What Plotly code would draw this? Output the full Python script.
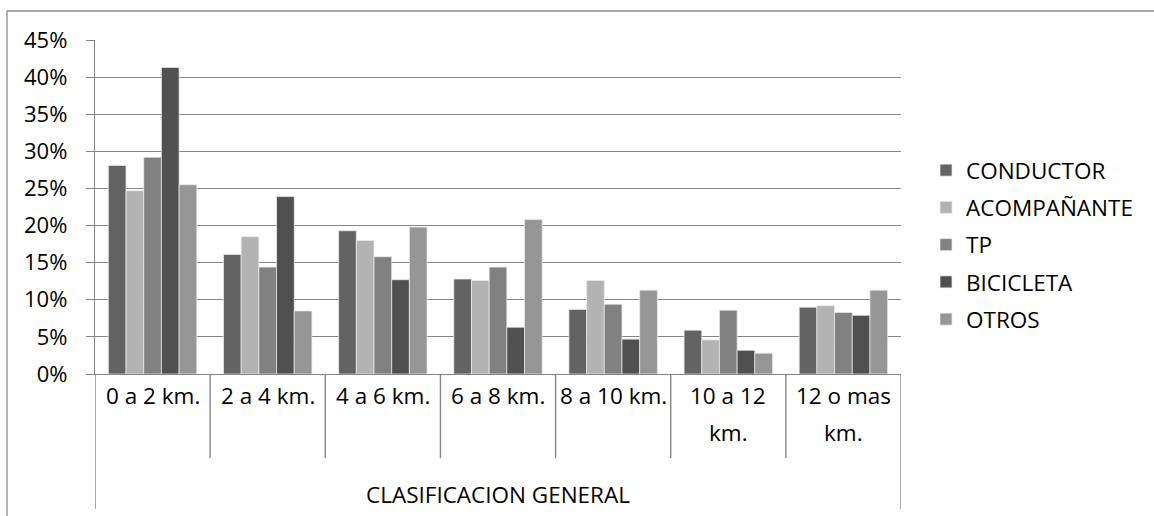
import plotly.graph_objects as go

categories = ["0 a 2 km.", "2 a 4 km.", "4 a 6 km.", "6 a 8 km.", "8 a 10 km.", "10 a 12 km.", "12 o mas km."]
category_lines = [["0 a 2 km."], ["2 a 4 km."], ["4 a 6 km."], ["6 a 8 km."], ["8 a 10 km."], ["10 a 12", "km."], ["12 o mas", "km."]]
group_label = "CLASIFICACION GENERAL"

conductor = [0.281, 0.161, 0.193, 0.128, 0.087, 0.059, 0.090]
acompanante = [0.247, 0.185, 0.180, 0.126, 0.126, 0.046, 0.092]
tp = [0.292, 0.144, 0.158, 0.144, 0.094, 0.086, 0.083]
bicicleta = [0.413, 0.239, 0.127, 0.063, 0.047, 0.032, 0.079]
otros = [0.255, 0.085, 0.198, 0.208, 0.113, 0.028, 0.113]

series_names = ["CONDUCTOR", "ACOMPAÑANTE", "TP", "BICICLETA", "OTROS"]
series_values = [conductor, acompanante, tp, bicicleta, otros]
colors = ["#636363", "#b3b3b3", "#818181", "#505050", "#969696"]

y_ticks = [0, 0.05, 0.10, 0.15, 0.20, 0.25, 0.30, 0.35, 0.40, 0.45]
y_ticktext = ["0%", "5%", "10%", "15%", "20%", "25%", "30%", "35%", "40%", "45%"]

FONT = "Open Sans"
GRID = "#868686"
FS = 22.5

W, H = 1154, 516
L, R, T, B = 95, 253, 40, 142
PH = H - T - B
PW = W - L - R

def py(pix):
    return (H - B - pix) / PH

def px(pix):
    return (pix - L) / PW

fig = go.Figure()
for i, (name, vals, col) in enumerate(zip(series_names, series_values, colors)):
    fig.add_trace(go.Bar(
        x=categories, y=vals, name=name, legendgroup=name,
        marker=dict(color=col, line=dict(color="rgba(235,235,235,0.9)", width=0.8)),
    ))

shapes = []
n = len(categories)
for i in range(n + 1):
    outer = i == 0 or i == n
    shapes.append(dict(type="line", xref="x", yref="paper",
                       x0=i - 0.5, x1=i - 0.5, y0=0, y1=py(509 if outer else 458),
                       line=dict(color=GRID, width=1.4)))
# chart border (right and bottom edges fall outside the picture)
shapes.append(dict(type="rect", xref="paper", yref="paper",
                   x0=px(7), x1=px(1158), y0=py(11), y1=py(522),
                   line=dict(color="#8c8c8c", width=1.3), fillcolor="rgba(0,0,0,0)", layer="below"))

annotations = []
for cat, lines in zip(categories, category_lines):
    for j, line in enumerate(lines):
        annotations.append(dict(xref="x", yref="paper", x=cat, y=py(395 + 37 * j),
                                text=line, showarrow=False, yanchor="middle", xanchor="center",
                                font=dict(family=FONT, size=FS, color="#000000")))
annotations.append(dict(xref="paper", yref="paper", x=0.5, y=py(494), text=group_label,
                        showarrow=False, yanchor="middle", xanchor="center",
                        font=dict(family=FONT, size=FS, color="#000000")))

fig.update_layout(
    width=W, height=H,
    margin=dict(l=L, r=R, t=T, b=B, pad=0),
    paper_bgcolor="white", plot_bgcolor="white",
    barmode="group", bargap=0.232, bargroupgap=0,
    font=dict(family=FONT, size=FS, color="#000000"),
    xaxis=dict(showticklabels=False, ticks="", showgrid=False, zeroline=False,
               showline=True, linecolor=GRID, linewidth=1.4, range=[-0.5, n - 0.5]),
    yaxis=dict(range=[0, 0.45], tickvals=y_ticks, ticktext=y_ticktext,
               showgrid=True, gridcolor=GRID, gridwidth=1.4, zeroline=False,
               showline=True, linecolor=GRID, linewidth=1.4,
               ticks="outside", ticklen=8, tickcolor=GRID, tickwidth=1.4,
               ticklabelstandoff=14,
               tickfont=dict(family=FONT, size=22, color="#000000")),
    legend=dict(x=px(926), y=py(149), xanchor="left", yanchor="top",
                font=dict(family=FONT, size=FS, color="#000000"),
                tracegroupgap=5, bgcolor="rgba(0,0,0,0)"),
    shapes=shapes, annotations=annotations, showlegend=True,
)

fig.write_html("out.html", config={"displayModeBar": False},
               post_script="document.body.style.margin='0';document.body.style.padding='0';")
